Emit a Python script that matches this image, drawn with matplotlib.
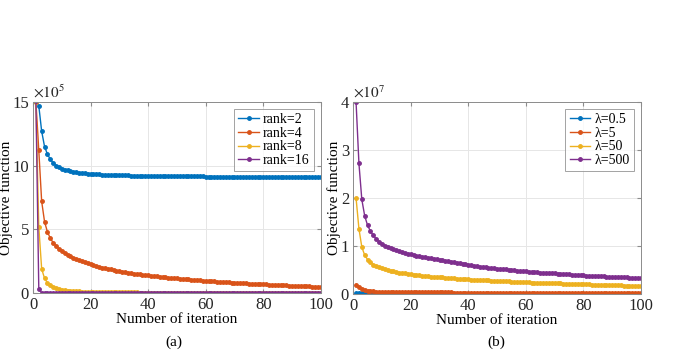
import numpy as np
import matplotlib.pyplot as plt

plt.rcParams['font.family'] = ['Liberation Serif', 'DejaVu Serif']
plt.rcParams['mathtext.fontset'] = 'stix'

iters = list(range(1, 101))

# (a) objective function, units of 1e5
rank2 = [15.0, 14.7, 12.7, 11.5, 10.9, 10.5, 10.2, 10.0, 9.87, 9.77,
         9.69, 9.62, 9.57, 9.52, 9.48, 9.45, 9.42, 9.40, 9.38, 9.36,
         9.34, 9.33, 9.31, 9.30, 9.29, 9.28, 9.27, 9.26, 9.25, 9.25,
         9.24, 9.23, 9.23, 9.22, 9.22, 9.21, 9.21, 9.20, 9.20, 9.20,
         9.19, 9.19, 9.19, 9.18, 9.18, 9.18, 9.17, 9.17, 9.17, 9.17,
         9.16, 9.16, 9.16, 9.16, 9.15, 9.15, 9.15, 9.15, 9.15, 9.14,
         9.14, 9.14, 9.14, 9.14, 9.14, 9.13, 9.13, 9.13, 9.13, 9.13,
         9.13, 9.12, 9.12, 9.12, 9.12, 9.12, 9.12, 9.12, 9.11, 9.11,
         9.11, 9.11, 9.11, 9.11, 9.11, 9.11, 9.10, 9.10, 9.10, 9.10,
         9.10, 9.10, 9.10, 9.10, 9.10, 9.09, 9.09, 9.09, 9.09, 9.09]
rank4 = [15.0, 11.2, 7.2, 5.6, 4.8, 4.3, 3.95, 3.7, 3.48, 3.3,
         3.14, 3.0, 2.88, 2.77, 2.67, 2.57, 2.48, 2.40, 2.32, 2.25,
         2.18, 2.12, 2.06, 2.00, 1.95, 1.90, 1.85, 1.80, 1.76, 1.72,
         1.68, 1.64, 1.60, 1.57, 1.53, 1.50, 1.47, 1.44, 1.41, 1.38,
         1.35, 1.33, 1.30, 1.28, 1.25, 1.23, 1.21, 1.19, 1.17, 1.15,
         1.13, 1.11, 1.09, 1.07, 1.05, 1.03, 1.01, 0.99, 0.97, 0.95,
         0.94, 0.92, 0.91, 0.89, 0.88, 0.86, 0.85, 0.83, 0.82, 0.81,
         0.79, 0.78, 0.77, 0.75, 0.74, 0.73, 0.72, 0.70, 0.69, 0.68,
         0.67, 0.66, 0.65, 0.64, 0.63, 0.62, 0.61, 0.60, 0.59, 0.58,
         0.57, 0.56, 0.55, 0.54, 0.53, 0.52, 0.51, 0.50, 0.49, 0.48]
rank8 = [15.0, 5.2, 1.9, 1.15, 0.8, 0.6, 0.47, 0.38, 0.31, 0.26,
         0.22, 0.19, 0.17, 0.15, 0.13, 0.12, 0.11, 0.10, 0.09, 0.085,
         0.080, 0.075, 0.070, 0.066, 0.062, 0.058, 0.055, 0.052, 0.050, 0.048,
         0.046, 0.045, 0.044, 0.043, 0.042, 0.041, 0.040, 0.039, 0.038, 0.037,
         0.036, 0.036, 0.035, 0.035, 0.034, 0.034, 0.033, 0.033, 0.032, 0.032,
         0.031, 0.031, 0.030, 0.030, 0.030, 0.029, 0.029, 0.029, 0.028, 0.028,
         0.028, 0.027, 0.027, 0.027, 0.026, 0.026, 0.026, 0.026, 0.025, 0.025,
         0.025, 0.025, 0.024, 0.024, 0.024, 0.024, 0.023, 0.023, 0.023, 0.023,
         0.023, 0.022, 0.022, 0.022, 0.022, 0.022, 0.021, 0.021, 0.021, 0.021,
         0.021, 0.021, 0.020, 0.020, 0.020, 0.020, 0.020, 0.020, 0.020, 0.020]
rank16 = [15.1, 0.35, 0.02, 0.01, 0.01, 0.01, 0.01, 0.01, 0.01, 0.01,
          0.01, 0.01, 0.01, 0.01, 0.01, 0.01, 0.01, 0.01, 0.01, 0.01,
          0.01, 0.01, 0.01, 0.01, 0.01, 0.01, 0.01, 0.01, 0.01, 0.01,
          0.01, 0.01, 0.01, 0.01, 0.01, 0.01, 0.01, 0.01, 0.01, 0.01,
          0.01, 0.01, 0.01, 0.01, 0.01, 0.01, 0.01, 0.01, 0.01, 0.01,
          0.01, 0.01, 0.01, 0.01, 0.01, 0.01, 0.01, 0.01, 0.01, 0.01,
          0.01, 0.01, 0.01, 0.01, 0.01, 0.01, 0.01, 0.01, 0.01, 0.01,
          0.01, 0.01, 0.01, 0.01, 0.01, 0.01, 0.01, 0.01, 0.01, 0.01,
          0.01, 0.01, 0.01, 0.01, 0.01, 0.01, 0.01, 0.01, 0.01, 0.01,
          0.01, 0.01, 0.01, 0.01, 0.01, 0.01, 0.01, 0.01, 0.01, 0.01]

# (b) objective function, units of 1e7
lam05 = [0.020, 0.020, 0.019, 0.019, 0.018, 0.018, 0.017, 0.017, 0.016, 0.016,
         0.016, 0.015, 0.015, 0.015, 0.015, 0.014, 0.014, 0.014, 0.014, 0.014,
         0.013, 0.013, 0.013, 0.013, 0.013, 0.013, 0.012, 0.012, 0.012, 0.012,
         0.012, 0.012, 0.012, 0.012, 0.011, 0.011, 0.011, 0.011, 0.011, 0.011,
         0.011, 0.011, 0.011, 0.011, 0.011, 0.010, 0.010, 0.010, 0.010, 0.010,
         0.010, 0.010, 0.010, 0.010, 0.010, 0.010, 0.010, 0.010, 0.010, 0.010,
         0.010, 0.010, 0.010, 0.010, 0.010, 0.010, 0.010, 0.010, 0.010, 0.010,
         0.010, 0.010, 0.010, 0.010, 0.010, 0.010, 0.010, 0.010, 0.010, 0.010,
         0.010, 0.010, 0.010, 0.010, 0.010, 0.010, 0.010, 0.010, 0.010, 0.010,
         0.010, 0.010, 0.010, 0.010, 0.010, 0.010, 0.010, 0.010, 0.010, 0.010]
lam5 = [0.20, 0.15, 0.10, 0.080, 0.068, 0.060, 0.055, 0.052, 0.050, 0.048,
        0.047, 0.046, 0.045, 0.044, 0.043, 0.042, 0.041, 0.041, 0.040, 0.040,
        0.039, 0.039, 0.038, 0.038, 0.037, 0.037, 0.036, 0.036, 0.035, 0.035,
        0.035, 0.034, 0.034, 0.034, 0.033, 0.033, 0.033, 0.032, 0.032, 0.032,
        0.031, 0.031, 0.031, 0.031, 0.030, 0.030, 0.030, 0.030, 0.029, 0.029,
        0.029, 0.029, 0.028, 0.028, 0.028, 0.028, 0.028, 0.027, 0.027, 0.027,
        0.027, 0.027, 0.026, 0.026, 0.026, 0.026, 0.026, 0.026, 0.025, 0.025,
        0.025, 0.025, 0.025, 0.025, 0.024, 0.024, 0.024, 0.024, 0.024, 0.024,
        0.024, 0.023, 0.023, 0.023, 0.023, 0.023, 0.023, 0.023, 0.022, 0.022,
        0.022, 0.022, 0.022, 0.022, 0.022, 0.022, 0.021, 0.021, 0.021, 0.021]
lam50 = [2.0, 1.36, 0.98, 0.81, 0.72, 0.66, 0.61, 0.58, 0.555, 0.535,
         0.515, 0.500, 0.485, 0.472, 0.460, 0.449, 0.439, 0.430, 0.421, 0.413,
         0.405, 0.398, 0.391, 0.384, 0.378, 0.372, 0.366, 0.361, 0.356, 0.351,
         0.346, 0.341, 0.336, 0.332, 0.328, 0.324, 0.320, 0.316, 0.312, 0.308,
         0.304, 0.300, 0.297, 0.294, 0.291, 0.288, 0.285, 0.282, 0.279, 0.276,
         0.273, 0.270, 0.267, 0.264, 0.261, 0.258, 0.255, 0.252, 0.249, 0.246,
         0.243, 0.241, 0.239, 0.237, 0.235, 0.233, 0.231, 0.229, 0.227, 0.225,
         0.223, 0.221, 0.219, 0.217, 0.215, 0.213, 0.211, 0.209, 0.207, 0.205,
         0.203, 0.201, 0.199, 0.197, 0.195, 0.193, 0.191, 0.189, 0.187, 0.185,
         0.183, 0.181, 0.180, 0.179, 0.178, 0.177, 0.176, 0.175, 0.174, 0.173]
lam500 = [4.0, 2.72, 1.97, 1.63, 1.43, 1.31, 1.22, 1.15, 1.09, 1.05,
          1.01, 0.98, 0.95, 0.93, 0.91, 0.89, 0.87, 0.855, 0.84, 0.825,
          0.81, 0.80, 0.79, 0.775, 0.765, 0.755, 0.745, 0.735, 0.725, 0.715,
          0.705, 0.695, 0.685, 0.675, 0.665, 0.655, 0.645, 0.635, 0.625, 0.615,
          0.597, 0.589, 0.581, 0.573, 0.566, 0.559, 0.552, 0.545, 0.538, 0.531,
          0.525, 0.519, 0.513, 0.507, 0.501, 0.495, 0.489, 0.484, 0.479, 0.474,
          0.469, 0.464, 0.459, 0.454, 0.449, 0.445, 0.441, 0.437, 0.433, 0.429,
          0.425, 0.421, 0.417, 0.413, 0.409, 0.405, 0.401, 0.397, 0.393, 0.389,
          0.386, 0.383, 0.380, 0.377, 0.374, 0.371, 0.368, 0.365, 0.362, 0.359,
          0.356, 0.353, 0.350, 0.348, 0.346, 0.344, 0.342, 0.340, 0.338, 0.336]

colors = ['#0072BD', '#D95319', '#EDB120', '#7E2F8E']

fig = plt.figure(figsize=(6.74, 3.64), dpi=100)
ax1 = fig.add_axes([0.049, 0.195, 0.427, 0.525])
ax2 = fig.add_axes([0.524, 0.192, 0.427, 0.528])


def style(ax, ymax, step, power, ylab_x):
    ax.set_xlim(0, 100)
    ax.set_ylim(0, ymax)
    ax.set_xticks(range(0, 101, 20))
    ax.set_yticks(range(0, ymax + 1, step))
    ax.text(0.0, 1.005, r'$\times10^{%d}$' % power, transform=ax.transAxes,
            fontsize=11, ha='left', va='bottom', color='#262626')
    ax.grid(True, color='#e6e6e6', linewidth=0.7)
    ax.set_axisbelow(True)
    for s in ax.spines.values():
        s.set_color('#8c8c8c')
        s.set_linewidth(0.7)
    ax.tick_params(direction='in', top=True, right=True, length=3,
                   color='#8c8c8c', labelsize=12, labelcolor='#262626', pad=3)
    ax.set_xlabel('Number of iteration', fontsize=11, labelpad=0)
    ax.set_ylabel('Objective function', fontsize=11, va='center')
    ax.yaxis.set_label_coords(ylab_x, 0.5)


series_a = [rank2, rank4, rank8, rank16]
labels_a = ['rank=2', 'rank=4', 'rank=8', 'rank=16']
for vals, lab, c in zip(series_a, labels_a, colors):
    ax1.plot(iters, vals, color=c, marker='.', markersize=5,
             linewidth=1.0, label=lab)
style(ax1, 15, 5, 5, -0.092)

series_b = [lam05, lam5, lam50, lam500]
labels_b = ['λ=0.5', 'λ=5', 'λ=50', 'λ=500']
for vals, lab, c in zip(series_b, labels_b, colors):
    ax2.plot(iters, vals, color=c, marker='.', markersize=5,
             linewidth=1.0, label=lab)
style(ax2, 4, 1, 7, -0.066)

for ax in (ax1, ax2):
    leg = ax.legend(loc='upper right', fontsize=10, frameon=True, fancybox=False,
                    handlelength=1.5, handletextpad=0.3, borderpad=0.3,
                    labelspacing=0.05, borderaxespad=0.5)
    leg.get_frame().set_edgecolor('#8c8c8c')
    leg.get_frame().set_linewidth(0.7)

fig.text(0.258, 0.05, '(a)', ha='center', fontsize=11)
fig.text(0.737, 0.05, '(b)', ha='center', fontsize=11)

fig.savefig('out.png', dpi=100)
